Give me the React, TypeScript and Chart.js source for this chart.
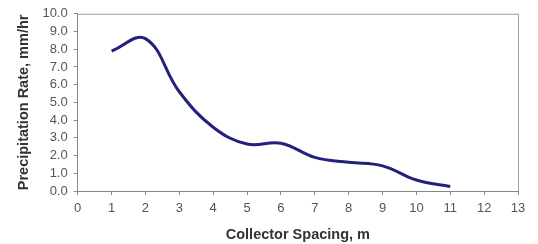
import React, { useEffect, useRef } from "react";
import { Chart, registerables } from "chart.js";

Chart.register(...registerables);

const spacing = [1, 2, 3, 4, 5, 6, 7, 8, 9, 10, 11];
const rate = [7.9, 8.6, 5.6, 3.6, 2.65, 2.7, 1.9, 1.62, 1.42, 0.62, 0.25];
const xTitle = "Collector Spacing, m";
const yTitle = "Precipitation Rate, mm/hr";

const borderPlugin = {
  id: "plotBorder",
  afterDraw(chart: any) {
    const { ctx, chartArea } = chart;
    ctx.save();
    ctx.strokeStyle = "#a0a0a0";
    ctx.lineWidth = 1;
    ctx.beginPath();
    ctx.moveTo(chartArea.left, chartArea.top + 0.5);
    ctx.lineTo(chartArea.right + 0.5, chartArea.top + 0.5);
    ctx.lineTo(chartArea.right + 0.5, chartArea.bottom);
    ctx.stroke();
    ctx.restore();
  },
};

export default function App() {
  const ref = useRef<HTMLCanvasElement>(null);
  useEffect(() => {
    document.body.style.margin = "0";
    const chart = new Chart(ref.current!, {
      type: "line",
      data: {
        datasets: [
          {
            data: spacing.map((x, i) => ({ x, y: rate[i] })),
            borderColor: "#22227a",
            borderWidth: 3,
            pointRadius: 0,
            tension: 0.4,
            fill: false,
          },
        ],
      },
      options: {
        animation: false,
        responsive: false,
        layout: { padding: { left: 15, right: 20, top: 10, bottom: 0 } },
        plugins: { legend: { display: false }, tooltip: { enabled: false } },
        scales: {
          x: {
            type: "linear",
            min: 0,
            max: 13,
            ticks: {
              stepSize: 1,
              autoSkip: false,
              maxRotation: 0,
              color: "#555",
              font: { family: "Liberation Sans", size: 13 },
              padding: 6,
            },
            grid: {
              drawOnChartArea: false,
              color: "#888",
              tickLength: 4,
            },
            border: { color: "#888" },
            title: {
              display: true,
              text: xTitle,
              color: "#333",
              font: { family: "Liberation Sans", size: 14.5, weight: "bold" },
              padding: { top: 4, bottom: 0 },
            },
          },
          y: {
            min: 0,
            max: 10,
            ticks: {
              stepSize: 1,
              autoSkip: false,
              color: "#555",
              font: { family: "Liberation Sans", size: 13 },
              callback: (v: any) => Number(v).toFixed(1),
              padding: 6,
            },
            grid: {
              drawOnChartArea: false,
              color: "#888",
              tickLength: 4,
            },
            border: { color: "#888" },
            title: {
              display: true,
              text: yTitle,
              color: "#333",
              font: { family: "Liberation Sans", size: 14.5, weight: "bold" },
              padding: { top: 0, bottom: 4 },
            },
          },
        },
      },
      plugins: [borderPlugin],
    });
    return () => chart.destroy();
  }, []);
  return <canvas ref={ref} width={538} height={244} style={{ display: "block" }} />;
}
